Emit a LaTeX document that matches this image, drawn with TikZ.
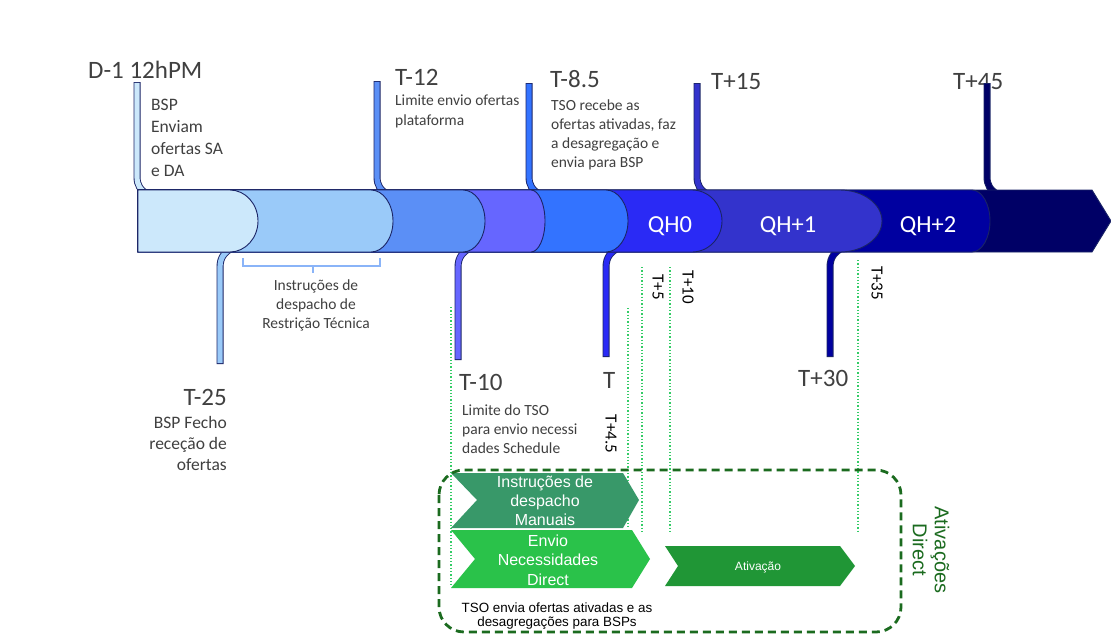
\documentclass[tikz,border=0pt]{standalone}
\usepackage{fontspec}
\setmainfont{Carlito}
\newfontfamily\arialf{Liberation Sans}
\definecolor{lbl}{HTML}{404040}
\definecolor{edge}{HTML}{1A2466}
\definecolor{cA}{HTML}{CCE8FB}
\definecolor{cB}{HTML}{9ACAF9}
\definecolor{cC}{HTML}{5B8FF6}
\definecolor{cD}{HTML}{6666FF}
\definecolor{cE}{HTML}{3373FF}
\definecolor{cF}{HTML}{2A2AF5}
\definecolor{cG}{HTML}{3333CC}
\definecolor{cH}{HTML}{0000A0}
\definecolor{cI}{HTML}{000066}
\definecolor{brk}{HTML}{8AB4F8}
\definecolor{dotg}{HTML}{33CC66}
\definecolor{boxg}{HTML}{1B6B1F}
\definecolor{chA}{HTML}{389869}
\definecolor{chB}{HTML}{2AC24A}
\definecolor{chC}{HTML}{209636}
\newcommand\bandseg[3]{% color, tip x, bulge width
  \path[draw=edge, line width=0.9pt, fill=#1] (138,190) -- ({#2-#3},190)
    .. controls ({#2-0.45*#3},190) and (#2,204) .. (#2,221)
    .. controls (#2,238) and ({#2-0.45*#3},252) .. ({#2-#3},252)
    -- (138,252) -- cycle;}
\newcommand\toppin[3]{% color, x, top y
  \draw[line width=7pt, edge] (#2,#3) -- (#2,176) .. controls (#2,186) and ({#2+3},189) .. ({#2+11},195);
  \draw[line width=5.2pt, #1, shorten <=0.9pt] (#2,#3) -- (#2,176) .. controls (#2,186) and ({#2+3},189) .. ({#2+11},195);}
\newcommand\botpin[3]{% color, x, bottom y
  \draw[line width=7pt, edge] (#2,#3) -- (#2,268) .. controls (#2,257) and ({#2+4},253) .. ({#2+13},247);
  \draw[line width=5.2pt, #1, shorten <=0.9pt] (#2,#3) -- (#2,268) .. controls (#2,257) and ({#2+4},253) .. ({#2+13},247);}
\begin{document}
\begin{tikzpicture}[x=1pt,y=-1pt,
  big/.style={font=\fontsize{25}{30}\selectfont, text=lbl, inner sep=0pt},
  smallt/.style={font=\fontsize{15.5}{19}\selectfont, text=lbl, inner sep=0pt, align=left},
  midt/.style={font=\fontsize{17.5}{21.5}\selectfont, text=lbl, inner sep=0pt},
  qh/.style={font=\fontsize{24.5}{28}\selectfont, text=white, inner sep=0pt},
  rotl/.style={font=\fontsize{17}{19}\selectfont, text=black, inner sep=0pt, rotate=-90},
  dotl/.style={dotg, dotted, line width=1.3pt},
  chevt/.style={font=\arialf\fontsize{16}{19}\selectfont, text=white, inner sep=0pt, align=center}
]
\useasboundingbox (0,0) rectangle (1111,635);
\fill[white] (0,0) rectangle (1111,635);

% big labels
\node[big, anchor=base west] (d1) at (88,78) {D-1 12hPM};
\node[big, anchor=base west] (t12) at (395,85) {T-12};
\node[big, anchor=base west] (t85) at (550,87) {T-8.5};
\node[big, anchor=base west] (t15) at (711,89) {T+15};
\node[big, anchor=base west] (t45) at (953,89) {T+45};
\node[big, anchor=base east] (t25) at (227,405) {T-25};
\node[big, anchor=base west] (t10) at (459,390) {T-10};
\node[big, anchor=base west] (t0) at (603,388) {T};
\node[big, anchor=base west] (t30) at (798,386) {T+30};

% small texts (anchor = baseline of last line)
\node[midt, anchor=base west, align=left, font=\fontsize{17.5}{22}\selectfont] (bspA) at (151,176) {BSP\\Enviam\\ofertas SA\\e DA};
\node[smallt, anchor=base west, font=\fontsize{15.5}{20}\selectfont] (lim12) at (395,125) {Limite envio ofertas\\plataforma};
\node[smallt, anchor=base west] (tso85) at (551,167) {TSO recebe as\\ofertas ativadas, faz\\a desagregação e\\envia para BSP};
\node[smallt, anchor=base, align=center] (restr) at (316,328) {Instruções de\\despacho de\\Restrição Técnica};
\node[midt, anchor=base east, align=right, font=\fontsize{17.5}{21}\selectfont] (bspB) at (227,470) {BSP Fecho\\receção de\\ofertas};
\node[smallt, anchor=base west] (lim10) at (462,453) {Limite do TSO\\para envio necessi\\dades Schedule};

% rotated small labels
\node[rotl] (r5) at (658,287) {T+5};
\node[rotl] (r10) at (688,287) {T+10};
\node[rotl] (r35) at (877,283) {T+35};
\node[rotl] (r45) at (611,434) {T+4.5};

% pins
\toppin{cA}{137}{82}
\toppin{cC}{377}{81}
\toppin{cE}{529}{83}
\toppin{cG}{697}{83}
\toppin{cI}{987}{83}
\botpin{cB}{220}{364}
\botpin{cD}{458}{360}
\botpin{cF}{606}{357}
\botpin{cH}{830}{357}

% band
\path[draw=edge, line width=0.9pt, fill=cI] (138,190) -- (1092,190) -- (1111,221) -- (1092,252) -- (138,252) -- cycle;
\bandseg{cH}{990}{18}
\bandseg{cG}{882}{42}
\bandseg{cF}{722}{30}
\bandseg{cE}{628}{22}
\bandseg{cD}{545}{14}
\bandseg{cC}{485}{22}
\bandseg{cB}{393}{22}
\bandseg{cA}{258}{28}

\node[qh, anchor=base] (qh0) at (670,232) {QH0};
\node[qh, anchor=base] (qh1) at (788,232) {QH+1};
\node[qh, anchor=base] (qh2) at (928,232) {QH+2};

% bracket
\draw[brk, line width=1.2pt] (243,258) -- (243,266) -- (380,266) -- (380,258);
\draw[brk, line width=1.2pt] (313,266) -- (313,273);

% dotted guides
\draw[dotl] (451,307) -- (451,585);
\draw[dotl] (628,308) -- (628,528);
\draw[dotl] (642,267) -- (642,532);
\draw[dotl] (670,267) -- (670,532);
\draw[dotl] (858,260) -- (858,532);

% chevrons
\path[fill=chA] (451,473) -- (623,473) -- (639,500) -- (623,528) -- (451,528) -- (477,500) -- cycle;
\path[fill=chB] (451,530) -- (632,530) -- (650,559) -- (632,588) -- (451,588) -- (475,559) -- cycle;
\path[fill=chC] (665,546) -- (840,546) -- (855,566) -- (840,586) -- (665,586) -- (678,566) -- cycle;
\node[chevt, anchor=base] (man) at (545,525) {Instruções de\\despacho\\Manuais};
\node[chevt, anchor=base, font=\arialf\fontsize{16}{19.5}\selectfont] (env) at (548,585) {Envio\\Necessidades\\Direct};
\node[chevt, anchor=center, font=\arialf\fontsize{12}{14}\selectfont] (atv) at (758,567) {Ativação};
\node[anchor=base, align=center, inner sep=0pt, font=\arialf\fontsize{13.4}{14}\selectfont, text=black] (tsoB) at (557,626) {TSO envia ofertas ativadas e as\\desagregações para BSPs};

% dashed group box
\draw[boxg, line width=2.8pt, dash pattern=on 8pt off 5pt, rounded corners=25pt] (439,470) rectangle (901,632);
\node[rotate=-90, align=center, inner sep=0pt, font=\arialf\fontsize{20}{22}\selectfont, text=boxg] (ativ) at (931,550) {Ativações\\Direct};
\end{tikzpicture}
\end{document}
